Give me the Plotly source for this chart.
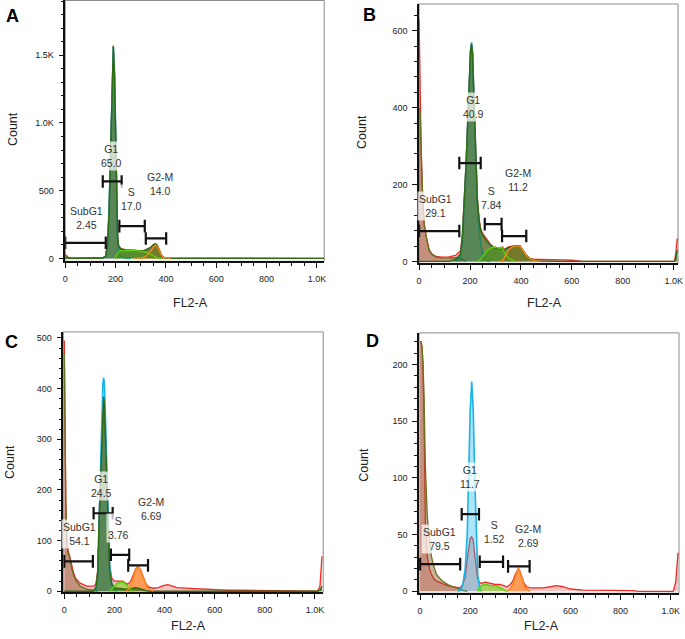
import plotly.graph_objects as go

# ---------------- DATA ----------------
gate_names = ["SubG1", "G1", "S", "G2-M"]

# Panel A
a_x = [0, 10, 20, 40, 100, 140, 150, 160, 168, 174, 180, 186, 191, 196, 200, 204, 208, 212, 220, 240,
       260, 280, 300, 310, 320, 330, 340, 350, 358, 366, 374, 382, 390, 400, 420, 600, 1029]
a_hist = [30, 10, 3, 1, 1, 2, 5, 15, 100, 350, 800, 1350, 1570, 1350, 900, 330, 170, 95, 72, 62,
          60, 60, 58, 55, 62, 70, 82, 100, 108, 95, 60, 25, 8, 3, 1, 0, 0]
a_subg1 = [20, 6, 2, 1, 1, 1, 0, 0, 0, 0, 0, 0, 0, 0, 0, 0, 0, 0, 0, 0,
           0, 0, 0, 0, 0, 0, 0, 0, 0, 0, 0, 0, 0, 0, 0, 0, 0]
a_g1 = [0, 0, 0, 0, 0, 0, 3, 12, 95, 345, 790, 1340, 1560, 1340, 880, 300, 130, 50, 15, 2,
        0, 0, 0, 0, 0, 0, 0, 0, 0, 0, 0, 0, 0, 0, 0, 0, 0]
a_s = [0, 0, 0, 0, 0, 0, 0, 0, 0, 0, 0, 0, 0, 0, 10, 25, 38, 45, 55, 58,
       58, 58, 55, 50, 45, 38, 28, 18, 10, 5, 2, 0, 0, 0, 0, 0, 0]
a_g2 = [0, 0, 0, 0, 0, 0, 0, 0, 0, 0, 0, 0, 0, 0, 0, 0, 0, 0, 0, 0,
        0, 0, 2, 5, 15, 30, 52, 82, 98, 90, 58, 24, 8, 3, 0, 0, 0]
a_model = [5, 2, 1, 1, 1, 2, 5, 15, 100, 350, 800, 1350, 1570, 1350, 900, 330, 170, 95, 72, 62,
           60, 60, 58, 55, 62, 70, 82, 100, 108, 95, 60, 25, 8, 3, 1, 0, 0]
a_gate_lo = [0, 149, 215, 320]
a_gate_hi = [161, 224, 316, 401]
a_gate_y = [115, 568, 238, 147]
a_pct = ["2.45", "65.0", "17.0", "14.0"]

# Panel B
b_x = [0, 4, 8, 12, 16, 20, 27, 34, 40, 50, 66, 90, 117, 144, 163, 170, 177, 184, 190, 196,
       202, 206, 210, 216, 222, 229, 236, 242, 250, 257, 267, 280, 292, 305, 318, 327, 335, 351, 364, 377,
       396, 409, 422, 435, 454, 480, 520, 560, 600, 640, 1003, 1008, 1014]
b_hist = [630, 420, 300, 200, 140, 100, 68, 45, 30, 20, 13, 11, 12, 16, 28, 70, 150, 250, 350, 470,
          550, 568, 545, 420, 300, 165, 110, 85, 72, 65, 55, 45, 38, 36, 34, 38, 31, 38, 40, 41,
          41, 29, 16, 8, 5, 5, 5, 4, 3, 0, 0, 20, 60]
b_subg1 = [400, 390, 290, 195, 135, 95, 65, 43, 28, 18, 11, 9, 9, 10, 8, 5, 2, 0, 0, 0,
           0, 0, 0, 0, 0, 0, 0, 0, 0, 0, 0, 0, 0, 0, 0, 0, 0, 0, 0, 0,
           0, 0, 0, 0, 0, 0, 0, 0, 0, 0, 0, 0, 0]
b_g1 = [0, 0, 0, 0, 0, 0, 0, 0, 0, 0, 0, 0, 0, 0, 10, 50, 130, 235, 340, 460,
        545, 570, 540, 410, 285, 145, 80, 45, 20, 8, 2, 0, 0, 0, 0, 0, 0, 0, 0, 0,
        0, 0, 0, 0, 0, 0, 0, 0, 0, 0, 0, 0, 0]
b_s = [0, 0, 0, 0, 0, 0, 0, 0, 0, 0, 0, 0, 0, 0, 0, 0, 0, 0, 0, 0,
       0, 0, 0, 0, 0, 0, 3, 6, 12, 20, 28, 34, 38, 36, 34, 36, 22, 8, 3, 0,
       0, 0, 0, 0, 0, 0, 0, 0, 0, 0, 0, 0, 0]
b_g2 = [0, 0, 0, 0, 0, 0, 0, 0, 0, 0, 0, 0, 0, 0, 0, 0, 0, 0, 0, 0,
        0, 0, 0, 0, 0, 0, 0, 0, 0, 0, 0, 0, 0, 0, 0, 2, 10, 30, 37, 40,
        40, 28, 15, 7, 2, 0, 0, 0, 0, 0, 0, 0, 0]
b_model = [0, 0, 0, 0, 0, 0, 0, 0, 0, 0, 0, 0, 0, 5, 20, 65, 145, 245, 345, 465,
           548, 566, 542, 415, 295, 160, 105, 80, 68, 60, 52, 42, 36, 34, 32, 35, 30, 36, 38, 40,
           40, 28, 15, 7, 3, 1, 0, 0, 0, 0, 0, 10, 30]
b_gate_lo = [0, 158, 258, 326]
b_gate_hi = [158, 242, 324, 421]
b_gate_y = [79, 256, 97, 66]
b_pct = ["29.1", "40.9", "7.84", "11.2"]

# Panel C
c_x = [0, 3, 6, 10, 15, 20, 25, 30, 37, 45, 63, 90, 116, 126, 133, 139, 145, 150, 154, 157,
       160, 164, 169, 176, 181, 190, 200, 210, 220, 234, 245, 254, 265, 275, 285, 295, 305, 315, 327, 339,
       355, 375, 395, 413, 430, 450, 480, 520, 560, 600, 650, 700, 800, 900, 911, 1010, 1020, 1028]
c_hist = [495, 300, 180, 110, 80, 72, 60, 48, 36, 26, 16, 10, 10, 14, 40, 150, 240, 320, 370, 384,
          375, 310, 230, 125, 50, 25, 20, 20, 20, 20, 16, 14, 20, 32, 44, 49, 42, 28, 14, 8,
          6, 7, 11, 13, 10, 7, 6, 5, 3, 3, 2, 2, 1, 1, 0, 0, 10, 69]
c_subg1 = [470, 290, 170, 100, 74, 70, 56, 44, 32, 22, 10, 4, 2, 1, 0, 0, 0, 0, 0, 0,
           0, 0, 0, 0, 0, 0, 0, 0, 0, 0, 0, 0, 0, 0, 0, 0, 0, 0, 0, 0,
           0, 0, 0, 0, 0, 0, 0, 0, 0, 0, 0, 0, 0, 0, 0, 0, 0, 0]
c_g1 = [0, 0, 0, 0, 0, 0, 0, 0, 0, 0, 0, 0, 0, 0, 30, 140, 260, 355, 410, 422,
        410, 345, 240, 120, 50, 12, 3, 0, 0, 0, 0, 0, 0, 0, 0, 0, 0, 0, 0, 0,
        0, 0, 0, 0, 0, 0, 0, 0, 0, 0, 0, 0, 0, 0, 0, 0, 0, 0]
c_s = [0, 0, 0, 0, 0, 0, 0, 0, 0, 0, 0, 0, 0, 0, 0, 0, 0, 0, 0, 0,
       0, 0, 0, 0, 0, 5, 10, 15, 17, 18, 14, 8, 3, 0, 0, 0, 0, 0, 0, 0,
       0, 0, 0, 0, 0, 0, 0, 0, 0, 0, 0, 0, 0, 0, 0, 0, 0, 0]
c_g2 = [0, 0, 0, 0, 0, 0, 0, 0, 0, 0, 0, 0, 0, 0, 0, 0, 0, 0, 0, 0,
        0, 0, 0, 0, 0, 0, 0, 0, 0, 0, 0, 3, 12, 28, 42, 49, 40, 26, 12, 4,
        0, 0, 0, 0, 0, 0, 0, 0, 0, 0, 0, 0, 0, 0, 0, 0, 0, 0]
c_model = [0, 0, 0, 0, 0, 0, 0, 0, 0, 0, 0, 0, 0, 8, 35, 140, 235, 315, 365, 384,
           370, 305, 225, 115, 40, 14, 7, 6, 5, 5, 4, 4, 5, 6, 7, 6, 4, 2, 1, 0,
           0, 0, 0, 0, 0, 0, 0, 0, 0, 0, 0, 0, 0, 0, 0, 0, 2, 10]
c_gate_lo = [0, 117, 186, 255]
c_gate_hi = [114, 193, 259, 334]
c_gate_y = [59, 154, 72, 51]
c_pct = ["54.1", "24.5", "3.76", "6.69"]

# Panel D
d_x = [0, 4, 8, 12, 16, 21, 29, 37, 45, 55, 65, 84, 110, 130, 150, 160, 170, 180, 188, 195,
       200, 206, 212, 218, 224, 230, 236, 245, 260, 280, 300, 320, 335, 346, 360, 370, 380, 386, 392, 398,
       405, 415, 425, 438, 460, 490, 520, 545, 570, 600, 650, 730, 800, 850, 870, 1010, 1020, 1029]
d_hist = [220, 220, 215, 195, 150, 60, 30, 20, 15, 11, 9, 7, 5, 4, 3, 3, 6, 12, 28, 42,
          47, 48, 45, 32, 18, 11, 8, 7, 8, 7, 6, 6, 5, 4, 6, 9, 15, 18, 20, 18,
          13, 7, 4, 3, 3, 3, 4, 5, 4, 2, 1, 1, 1, 0.5, 0, 0, 8, 34]
d_subg1 = [220, 220, 215, 200, 170, 110, 65, 45, 31, 22, 15, 10, 6, 4, 3, 2, 1, 0.5, 0, 0,
           0, 0, 0, 0, 0, 0, 0, 0, 0, 0, 0, 0, 0, 0, 0, 0, 0, 0, 0, 0,
           0, 0, 0, 0, 0, 0, 0, 0, 0, 0, 0, 0, 0, 0, 0, 0, 0, 0]
d_g1 = [0, 0, 0, 0, 0, 0, 0, 0, 0, 0, 0, 0, 0, 0, 0, 1, 5, 20, 50, 110,
        160, 185, 160, 100, 45, 15, 4, 0, 0, 0, 0, 0, 0, 0, 0, 0, 0, 0, 0, 0,
        0, 0, 0, 0, 0, 0, 0, 0, 0, 0, 0, 0, 0, 0, 0, 0, 0, 0]
d_s = [0, 0, 0, 0, 0, 0, 0, 0, 0, 0, 0, 0, 0, 0, 0, 0, 0, 0, 0, 0,
       0, 0, 0, 0, 0, 0, 3, 5, 6, 5, 5, 3, 1, 0, 0, 0, 0, 0, 0, 0,
       0, 0, 0, 0, 0, 0, 0, 0, 0, 0, 0, 0, 0, 0, 0, 0, 0, 0]
d_g2 = [0, 0, 0, 0, 0, 0, 0, 0, 0, 0, 0, 0, 0, 0, 0, 0, 0, 0, 0, 0,
        0, 0, 0, 0, 0, 0, 0, 0, 0, 0, 0, 0, 0, 0, 2, 6, 13, 17, 20, 17,
        12, 5, 2, 0, 0, 0, 0, 0, 0, 0, 0, 0, 0, 0, 0, 0, 0, 0]
d_model = None
d_gate_lo = [0, 166, 238, 351]
d_gate_hi = [160, 235, 331, 437]
d_gate_y = [24, 68, 26, 22]
d_pct = ["79.5", "11.7", "1.52", "2.69"]

x_tickvals = [0, 200, 400, 600, 800, 1000]
x_ticktext = ["0", "200", "400", "600", "800", "1.0K"]
a_ytickvals = [0, 500, 1000, 1500]
a_yticktext = ["0", "500", "1.0K", "1.5K"]
b_ytickvals = [0, 200, 400, 600]
c_ytickvals = [0, 100, 200, 300, 400, 500]
d_ytickvals = [0, 50, 100, 150, 200]

# ---------------- STYLE / LAYOUT ----------------
W, H = 685, 639
FONT = "Liberation Sans, Arial, sans-serif"
HIST_LINE, HIST_FILL = "#ee2b25", "rgba(232,80,80,0.35)"
SUB_LINE, SUB_FILL = "#66731f", "rgba(135,85,45,0.45)"
G1_LINE, G1_FILL = "#18b4ea", "rgba(24,180,234,0.35)"
S_LINE, S_FILL = "#5fd40a", "rgba(110,215,20,0.55)"
G2_LINE, G2_FILL = "#ff8a1e", "rgba(255,135,30,0.65)"
M_LINE, M_FILL = "#2e6a12", "rgba(45,105,20,0.65)"


def px_x(p):
    return p / W


def px_y(p):
    return 1 - p / H


def support(y):
    """Hide a component's flat zero run (draw only where it has counts)."""
    n = len(y)
    return [y[k] if any(y[j] > 0 for j in range(max(0, k - 1), min(n, k + 2))) else None
            for k in range(n)]


panels = [
    dict(letter="A", x=a_x, hist=a_hist, sub=a_subg1, g1=a_g1, s=a_s, g2=a_g2, model=a_model,
         lo=a_gate_lo, hi=a_gate_hi, gy=a_gate_y, pct=a_pct,
         xdom=[63, 325], ydom=[263, 0.5], xr=[0, 1029], yr=[-22, 1904],
         yt=a_ytickvals, ytt=a_yticktext, ymin=100,
         labels=[(84, 301), (185, 757), (263, 441), (377, 551)],
         letter_pos=(10, 16), count_pos=(10, 130), fl_pos=(190, 305)),
    dict(letter="B", x=b_x, hist=b_hist, sub=b_subg1, g1=b_g1, s=b_s, g2=b_g2, model=b_model,
         lo=b_gate_lo, hi=b_gate_hi, gy=b_gate_y, pct=b_pct,
         xdom=[421, 683], ydom=[265, 4], xr=[0, 1017], yr=[-5, 670],
         yt=b_ytickvals, ytt=[str(v) for v in b_ytickvals], ymin=40,
         labels=[(63, 145), (214, 401), (285, 165), (388, 212)],
         letter_pos=(371, 15), count_pos=(363, 133), fl_pos=(548, 305)),
    dict(letter="C", x=c_x, hist=c_hist, sub=c_subg1, g1=c_g1, s=c_s, g2=c_g2, model=c_model,
         lo=c_gate_lo, hi=c_gate_hi, gy=c_gate_y, pct=c_pct,
         xdom=[61, 324], ydom=[596, 334], xr=[-4, 1033], yr=[-2, 512],
         yt=c_ytickvals, ytt=[str(v) for v in c_ytickvals], ymin=20,
         labels=[(62, 113), (150, 207), (218, 125), (347, 162)],
         letter_pos=(9, 344), count_pos=(7, 465), fl_pos=(188, 630)),
    dict(letter="D", x=d_x, hist=d_hist, sub=d_subg1, g1=d_g1, s=d_s, g2=d_g2, model=d_model,
         lo=d_gate_lo, hi=d_gate_hi, gy=d_gate_y, pct=d_pct,
         xdom=[421, 684], ydom=[597, 335], xr=[-4, 1033], yr=[-1.75, 228],
         yt=d_ytickvals, ytt=[str(v) for v in d_ytickvals], ymin=10,
         labels=[(78, 46), (198, 101), (295, 52), (430, 49)],
         letter_pos=(374, 343), count_pos=(365, 468), fl_pos=(545, 630)),
]

fig = go.Figure()
layout = dict(width=W, height=H, margin=dict(l=0, r=0, t=0, b=0),
              paper_bgcolor="white", plot_bgcolor="white", showlegend=False,
              font=dict(family=FONT, color="#222"))
annotations = []
shapes = []

for i, p in enumerate(panels):
    sfx = "" if i == 0 else str(i + 1)
    xa, ya = "x" + sfx, "y" + sfx

    def area(y, line, fill, width=1.2, fillit=True):
        fig.add_trace(go.Scatter(
            x=p["x"], y=y, xaxis=xa, yaxis=ya, mode="lines",
            line=dict(color=line, width=width),
            fill="tozeroy" if fillit else None,
            fillcolor=fill if fillit else None, hoverinfo="skip"))

    area(p["hist"], HIST_LINE, HIST_FILL, 1.3)
    area(support(p["sub"]), SUB_LINE, SUB_FILL, 1.3)
    area(support(p["g1"]), G1_LINE, G1_FILL, 1.6)
    area(support(p["s"]), S_LINE, S_FILL, 1.3)
    area(support(p["g2"]), G2_LINE, G2_FILL, 1.3)
    if p["model"] is not None:
        area(p["model"], M_LINE, M_FILL, 1.4)
    area(support(p["s"]), S_LINE, None, 1.3, fillit=False)
    area(support(p["g2"]), G2_LINE, None, 1.3, fillit=False)

    # gates
    for lo, hi, gy in zip(p["lo"], p["hi"], p["gy"]):
        fig.add_trace(go.Scatter(
            x=[lo, hi], y=[gy, gy], xaxis=xa, yaxis=ya, mode="lines+markers",
            line=dict(color="#111", width=2.2),
            marker=dict(symbol="line-ns", size=9, line=dict(color="#111", width=2.2)),
            hoverinfo="skip"))

    # gate labels
    for name, pct, (lx, ly) in zip(gate_names, p["pct"], p["labels"]):
        annotations.append(dict(
            x=lx, y=ly, xref=xa, yref=ya, text=f"{name}<br>{pct}", showarrow=False,
            font=dict(size=10.5, color="#333", family=FONT), align="center",
            bgcolor="rgba(255,255,255,0.72)", borderpad=1,
            xanchor="center", yanchor="middle"))

    axis_common = dict(showline=True, linecolor="#111", linewidth=1.5,
                       ticks="outside", ticklen=5, tickwidth=1.3, tickcolor="#111",
                       showgrid=False, zeroline=False, ticklabelstandoff=3,
                       ticklabeloverflow="allow",
                       tickfont=dict(size=9, family=FONT, color="#222"))
    layout["xaxis" + sfx] = dict(
        axis_common, domain=[px_x(p["xdom"][0]), px_x(p["xdom"][1])], range=p["xr"],
        anchor=ya, tickmode="array", tickvals=x_tickvals, ticktext=x_ticktext,
        minor=dict(tickmode="linear", tick0=0, dtick=50, ticklen=3, tickwidth=1,
                   tickcolor="#111", ticks="outside", showgrid=False))
    layout["yaxis" + sfx] = dict(
        axis_common, domain=[px_y(p["ydom"][0]), px_y(p["ydom"][1])], range=p["yr"],
        anchor=xa, tickmode="array", tickvals=p["yt"], ticktext=p["ytt"],
        minor=dict(tickmode="linear", tick0=0, dtick=p["ymin"], ticklen=3, tickwidth=1,
                   tickcolor="#111", ticks="outside", showgrid=False))

    shapes.append(dict(type="rect", xref=xa + " domain", yref=ya + " domain",
                       x0=0, x1=1, y0=0, y1=1, line=dict(color="#8a8a8a", width=1),
                       layer="below"))

    lx, ly = p["letter_pos"]
    annotations.append(dict(x=px_x(lx), y=px_y(ly), xref="paper", yref="paper",
                            text=f"<b>{p['letter']}</b>", showarrow=False,
                            font=dict(size=18, color="#000", family=FONT),
                            xanchor="center", yanchor="middle"))
    cx, cy = p["count_pos"]
    annotations.append(dict(x=px_x(cx), y=px_y(cy), xref="paper", yref="paper",
                            text="Count", textangle=-90, showarrow=False,
                            font=dict(size=12.5, color="#222", family=FONT),
                            xanchor="center", yanchor="middle"))
    fx, fy = p["fl_pos"]
    annotations.append(dict(x=px_x(fx), y=px_y(fy), xref="paper", yref="paper",
                            text="FL2-A", showarrow=False,
                            font=dict(size=12.5, color="#222", family=FONT),
                            xanchor="center", yanchor="middle"))

layout["annotations"] = annotations
layout["shapes"] = shapes
fig.update_layout(**layout)
fig.write_html("out.html", config={"responsive": False, "displayModeBar": False},
               post_script="document.body.style.margin='0';document.body.style.padding='0';")
